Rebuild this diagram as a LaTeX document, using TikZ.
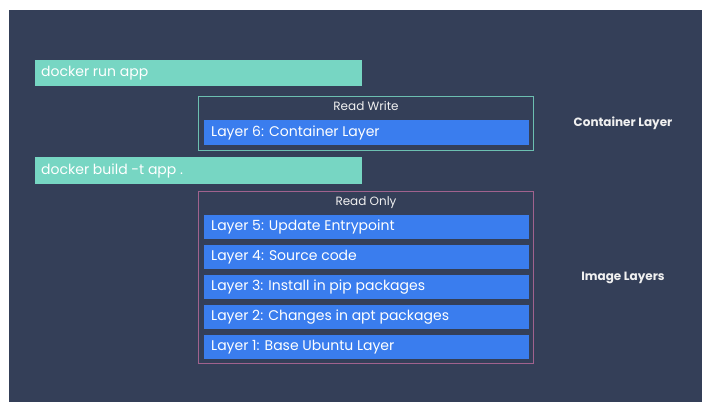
\documentclass[tikz,border=0pt]{standalone}
\usepackage{fontspec}
\setmainfont{Poppins}
\definecolor{bg}{HTML}{343F58}
\definecolor{cmdgreen}{HTML}{77D6C3}
\definecolor{layerblue}{HTML}{3A7DEE}
\definecolor{rwborder}{HTML}{6CBFB1}
\definecolor{roborder}{HTML}{A0628E}
\definecolor{labeltxt}{HTML}{F0F0F0}
\begin{document}
\begin{tikzpicture}[x=1pt,y=-1pt,
  cmdbar/.style={fill=cmdgreen,draw=none},
  layerbar/.style={fill=layerblue,draw=none},
  bartext/.style={anchor=west,text=white,font=\fontsize{14}{15}\selectfont,inner sep=0pt},
  headtext/.style={text=labeltxt,font=\fontsize{12}{13}\selectfont,inner sep=0pt},
  sidetext/.style={text=labeltxt,font=\bfseries\fontsize{12}{13}\selectfont,inner sep=0pt},
  groupbox/.style={fill=none,line width=1pt}]
\useasboundingbox (0,0) rectangle (715,412);
\fill[white] (0,0) rectangle (715,412);
\fill[bg] (9,10) rectangle (702,402);
% command bars
\fill[cmdbar] (35,60) rectangle (362,86);
\node[bartext] (run) at (41,73) {docker run app};
\fill[cmdbar] (35,157) rectangle (362,184);
\node[bartext] (build) at (41,170.5) {docker build -t app .};
% read write group
\draw[groupbox,draw=rwborder] (198,96) rectangle (533,150);
\node[headtext] (rw) at (366,106) {Read Write};
\fill[layerbar] (204,120) rectangle (529,145);
\node[bartext] (l6) at (211,132.5) {Layer 6: Container Layer};
% read only group
\draw[groupbox,draw=roborder] (198,191) rectangle (533,363);
\node[headtext] (ro) at (366,203) {Read Only};
\fill[layerbar] (204,215) rectangle (529,239);
\node[bartext] (l5) at (211,227) {Layer 5: Update Entrypoint};
\fill[layerbar] (204,245) rectangle (529,269);
\node[bartext] (l4) at (211,257) {Layer 4: Source code};
\fill[layerbar] (204,275) rectangle (529,299);
\node[bartext] (l3) at (211,287) {Layer 3: Install in pip packages};
\fill[layerbar] (204,305) rectangle (529,329);
\node[bartext] (l2) at (211,317) {Layer 2: Changes in apt packages};
\fill[layerbar] (204,335) rectangle (529,359);
\node[bartext] (l1) at (211,347) {Layer 1: Base Ubuntu Layer};
% side labels
\node[sidetext] (cl) at (623,123) {Container Layer};
\node[sidetext] (il) at (623,278) {Image Layers};
\end{tikzpicture}
\end{document}
